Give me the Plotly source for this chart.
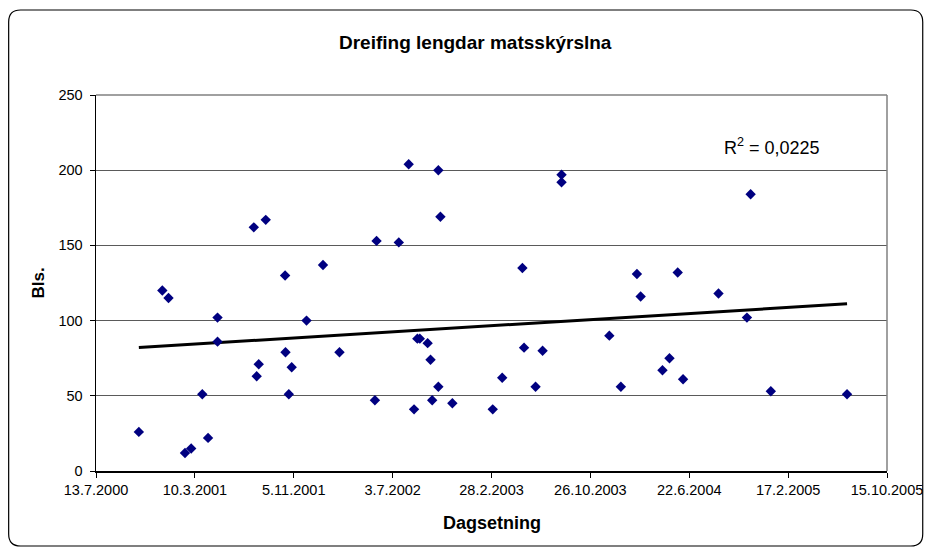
import plotly.graph_objects as go
import numpy as np
import pandas as pd

# ---------------- data ----------------
dates = [
    "2000-10-25", "2000-12-21", "2001-01-05", "2001-02-14", "2001-03-01",
    "2001-03-28", "2001-04-11", "2001-05-04", "2001-05-04", "2001-07-31",
    "2001-08-07", "2001-08-12", "2001-08-29", "2001-10-15", "2001-10-16",
    "2001-10-24", "2001-10-31", "2001-12-06", "2002-01-15", "2002-02-24",
    "2002-05-21", "2002-05-25", "2002-07-18", "2002-08-11", "2002-08-24",
    "2002-09-01", "2002-09-07", "2002-09-26", "2002-10-03", "2002-10-07",
    "2002-10-22", "2002-10-22", "2002-10-27", "2002-11-25", "2003-03-03",
    "2003-03-26", "2003-05-14", "2003-05-18", "2003-06-15", "2003-07-02",
    "2003-08-17", "2003-08-17", "2003-12-11", "2004-01-08", "2004-02-16",
    "2004-02-25", "2004-04-18", "2004-05-05", "2004-05-25", "2004-06-07",
    "2004-09-01", "2004-11-09", "2004-11-18", "2005-01-06", "2005-07-10",
]
bls = [
    26, 120, 115, 12, 15,
    51, 22, 102, 86, 162,
    63, 71, 167, 130, 79,
    51, 69, 100, 137, 79,
    47, 153, 152, 204, 41,
    88, 88, 85, 74, 47,
    200, 56, 169, 45, 41,
    62, 135, 82, 56, 80,
    197, 192, 90, 56, 131,
    116, 67, 75, 132, 61,
    118, 102, 184, 53, 51,
]
x_tick_labels = ["13.7.2000", "10.3.2001", "5.11.2001", "3.7.2002", "28.2.2003",
                 "26.10.2003", "22.6.2004", "17.2.2005", "15.10.2005"]
y_tick_vals = [0, 50, 100, 150, 200, 250]
title_text = "Dreifing lengdar matsskýrslna"
x_title = "Dagsetning"
y_title = "Bls."
r2_text = "R<sup>2</sup> = 0,0225"

# ---------------- layout geometry (pixels) ----------------
W, H = 935, 549
L, R, T, B = 96, 893, 95, 471
FONT = "Liberation Sans, Arial, sans-serif"


def px(x):
    return (x - L) / (R - L)


def py(y):
    return (B - y) / (B - T)


d = pd.to_datetime(dates)
tick_dates = pd.to_datetime(x_tick_labels, format="%d.%m.%Y")

# linear trend line (least squares on day numbers)
day_num = (d - pd.Timestamp("1970-01-01")).days.values.astype(float)
slope, intercept = np.polyfit(day_num, np.array(bls, dtype=float), 1)
trend_x = [d.min(), d.max()]
trend_days = np.array([day_num.min(), day_num.max()])
trend_y = list(intercept + slope * trend_days)

fig = go.Figure()
fig.add_trace(go.Scatter(
    x=trend_x, y=trend_y, mode="lines",
    line=dict(color="black", width=3), showlegend=False, hoverinfo="skip",
))
fig.add_trace(go.Scatter(
    x=d, y=bls, mode="markers",
    marker=dict(symbol="diamond", size=8, color="#000080", line=dict(width=0)),
    showlegend=False,
))

# rounded chart border
bl, bt, br, bb, rr = 8, 10, 929, 546, 12
pts = [
    ("M", bl + rr, bt), ("L", br - rr, bt), ("Q", br, bt, br, bt + rr),
    ("L", br, bb - rr), ("Q", br, bb, br - rr, bb), ("L", bl + rr, bb),
    ("Q", bl, bb, bl, bb - rr), ("L", bl, bt + rr), ("Q", bl, bt, bl + rr, bt),
]
path = ""
for p in pts:
    if p[0] == "Q":
        path += f"Q{px(p[1]):.5f},{py(p[2]):.5f} {px(p[3]):.5f},{py(p[4]):.5f} "
    else:
        path += f"{p[0]}{px(p[1]):.5f},{py(p[2]):.5f} "
path += "Z"

shapes = [
    dict(type="path", path=path, xref="paper", yref="paper",
         line=dict(color="black", width=1.2), layer="above"),
    # plot area right and top border (gray)
    dict(type="line", xref="paper", yref="paper", x0=1, x1=1, y0=0, y1=1,
         line=dict(color="#808080", width=1.5)),
    dict(type="line", xref="paper", yref="paper", x0=0, x1=1, y0=1, y1=1,
         line=dict(color="#808080", width=1.5)),
]

annotations = [
    dict(text=f"<b>{title_text}</b>", xref="paper", yref="paper",
         x=px(478), y=py(42), xanchor="center", yanchor="middle",
         showarrow=False, font=dict(family=FONT, size=19, color="black")),
    dict(text=f"<b>{x_title}</b>", xref="paper", yref="paper",
         x=px(494.5), y=py(523), xanchor="center", yanchor="middle",
         showarrow=False, font=dict(family=FONT, size=18, color="black")),
    dict(text=f"<b>{y_title}</b>", xref="paper", yref="paper",
         x=px(38), y=py(283), xanchor="center", yanchor="middle", textangle=-90,
         showarrow=False, font=dict(family=FONT, size=17, color="black")),
    dict(text=r2_text, xref="paper", yref="paper",
         x=px(727), y=py(146), xanchor="left", yanchor="middle",
         showarrow=False, font=dict(family=FONT, size=18, color="black")),
]

fig.update_layout(
    width=W, height=H, autosize=False,
    margin=dict(l=L, r=W - R, t=T, b=H - B, pad=0),
    paper_bgcolor="white", plot_bgcolor="white",
    showlegend=False,
    shapes=shapes, annotations=annotations,
    xaxis=dict(
        type="date", range=[tick_dates[0], tick_dates[-1]],
        tickmode="array", tickvals=list(tick_dates), ticktext=x_tick_labels,
        ticks="outside", ticklen=5, tickcolor="black", tickwidth=1,
        showline=True, linecolor="black", linewidth=1.5,
        showgrid=False, zeroline=False,
        tickfont=dict(family=FONT, size=14.5, color="black"),
    ),
    yaxis=dict(
        range=[0, 250], tickmode="array", tickvals=y_tick_vals,
        ticks="outside", ticklen=5, tickcolor="black", tickwidth=1,
        showline=True, linecolor="black", linewidth=1.5,
        showgrid=True, gridcolor="#5a5a5a", gridwidth=1, zeroline=False,
        tickfont=dict(family=FONT, size=14.5, color="black"),
        ticklabelstandoff=4,
    ),
)

fig.write_html(
    "out.html",
    config={"responsive": False, "displayModeBar": False, "staticPlot": True},
    post_script="document.body.style.margin='0';document.body.style.overflow='hidden';",
)
